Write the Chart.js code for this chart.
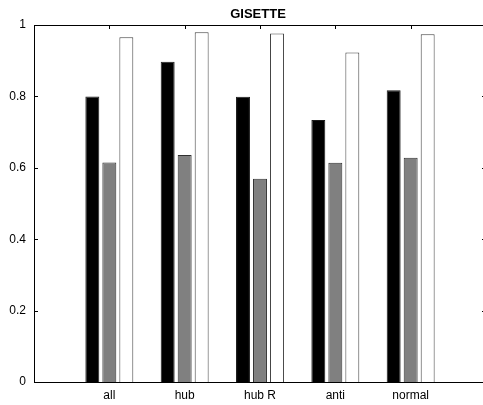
<!DOCTYPE html>
<html>
<head>
<meta charset="utf-8">
<script src="https://cdn.jsdelivr.net/npm/chart.js@4/dist/chart.umd.min.js"></script>
<style>
  html, body { margin: 0; padding: 0; background: #fff; overflow: hidden; }
  #wrap { width: 483px; height: 405px; overflow: hidden; position: relative; }
  #wrap canvas { position: absolute; left: 0; top: 0; }
</style>
</head>
<body>
<div id="wrap"><canvas id="chart" width="492" height="405" style="width:492px;height:405px"></canvas></div>
<script>
const categories = ['all', 'hub', 'hub R', 'anti', 'normal'];
const blackValues = [0.800, 0.897, 0.799, 0.734, 0.817];
const grayValues = [0.615, 0.636, 0.569, 0.614, 0.628];
const whiteValues = [0.966, 0.980, 0.976, 0.923, 0.974];
const yTicks = [0, 0.2, 0.4, 0.6, 0.8, 1];

// empty slot on each side, like the original axis
const pad = arr => [null, ...arr, null];
const labels = pad(categories).map(v => v === null ? '' : v);

const tickFont = { family: 'Liberation Sans, Arial, sans-serif', size: 12 };

const frame = {
  id: 'frame',
  afterDraw(chart) {
    const { ctx, chartArea: a, scales } = chart;
    ctx.save();
    ctx.strokeStyle = '#000';
    ctx.lineWidth = 1;
    ctx.beginPath();
    ctx.moveTo(a.left, a.top + 0.5);
    ctx.lineTo(a.right, a.top + 0.5);
    ctx.moveTo(a.right - 0.5, a.top);
    ctx.lineTo(a.right - 0.5, a.bottom);
    // inward ticks
    yTicks.forEach(v => {
      const y = Math.round(scales.y.getPixelForValue(v)) + 0.5;
      ctx.moveTo(a.left, y); ctx.lineTo(a.left + 4, y);
      ctx.moveTo(a.right - 4, y); ctx.lineTo(a.right, y);
    });
    categories.forEach((c, i) => {
      const x = Math.round(scales.x.getPixelForValue(i + 1)) + 0.5;
      ctx.moveTo(x, a.top); ctx.lineTo(x, a.top + 4);
    });
    ctx.stroke();
    // title
    ctx.fillStyle = '#000';
    ctx.font = 'bold 13px Liberation Sans, Arial, sans-serif';
    ctx.textAlign = 'center';
    ctx.textBaseline = 'middle';
    ctx.fillText('GISETTE', 258, 14);
    ctx.restore();
  }
};

new Chart(document.getElementById('chart'), {
  type: 'bar',
  data: {
    labels: labels,
    datasets: [
      { data: pad(blackValues), backgroundColor: '#000000', borderColor: '#1a1a1a', borderWidth: 1 },
      { data: pad(grayValues), backgroundColor: '#808080', borderColor: '#303030', borderWidth: 1 },
      { data: pad(whiteValues), backgroundColor: '#ffffff', borderColor: '#404040', borderWidth: 1 }
    ]
  },
  options: {
    responsive: false,
    animation: false,
    devicePixelRatio: 1,
    categoryPercentage: 0.677,
    barPercentage: 0.82,
    layout: { padding: { left: 0, top: 25, right: 6, bottom: 0 } },
    plugins: {
      legend: { display: false },
      tooltip: { enabled: false },
      title: { display: false }
    },
    scales: {
      x: {
        offset: false,
        grid: { display: false, drawTicks: false },
        border: { display: true, color: '#000', width: 1 },
        ticks: { color: '#000', font: tickFont, padding: 6, maxRotation: 0, autoSkip: false },
        afterFit: s => { s.height = 23; }
      },
      y: {
        min: 0,
        max: 1,
        grid: { display: false, drawTicks: false },
        border: { display: true, color: '#000', width: 1 },
        ticks: {
          color: '#000', font: tickFont, padding: 8, stepSize: 0.2,
          callback: v => String(Math.round(v * 10) / 10)
        },
        afterFit: s => { s.width = 34; }
      }
    }
  },
  plugins: [frame]
});
</script>
</body>
</html>
